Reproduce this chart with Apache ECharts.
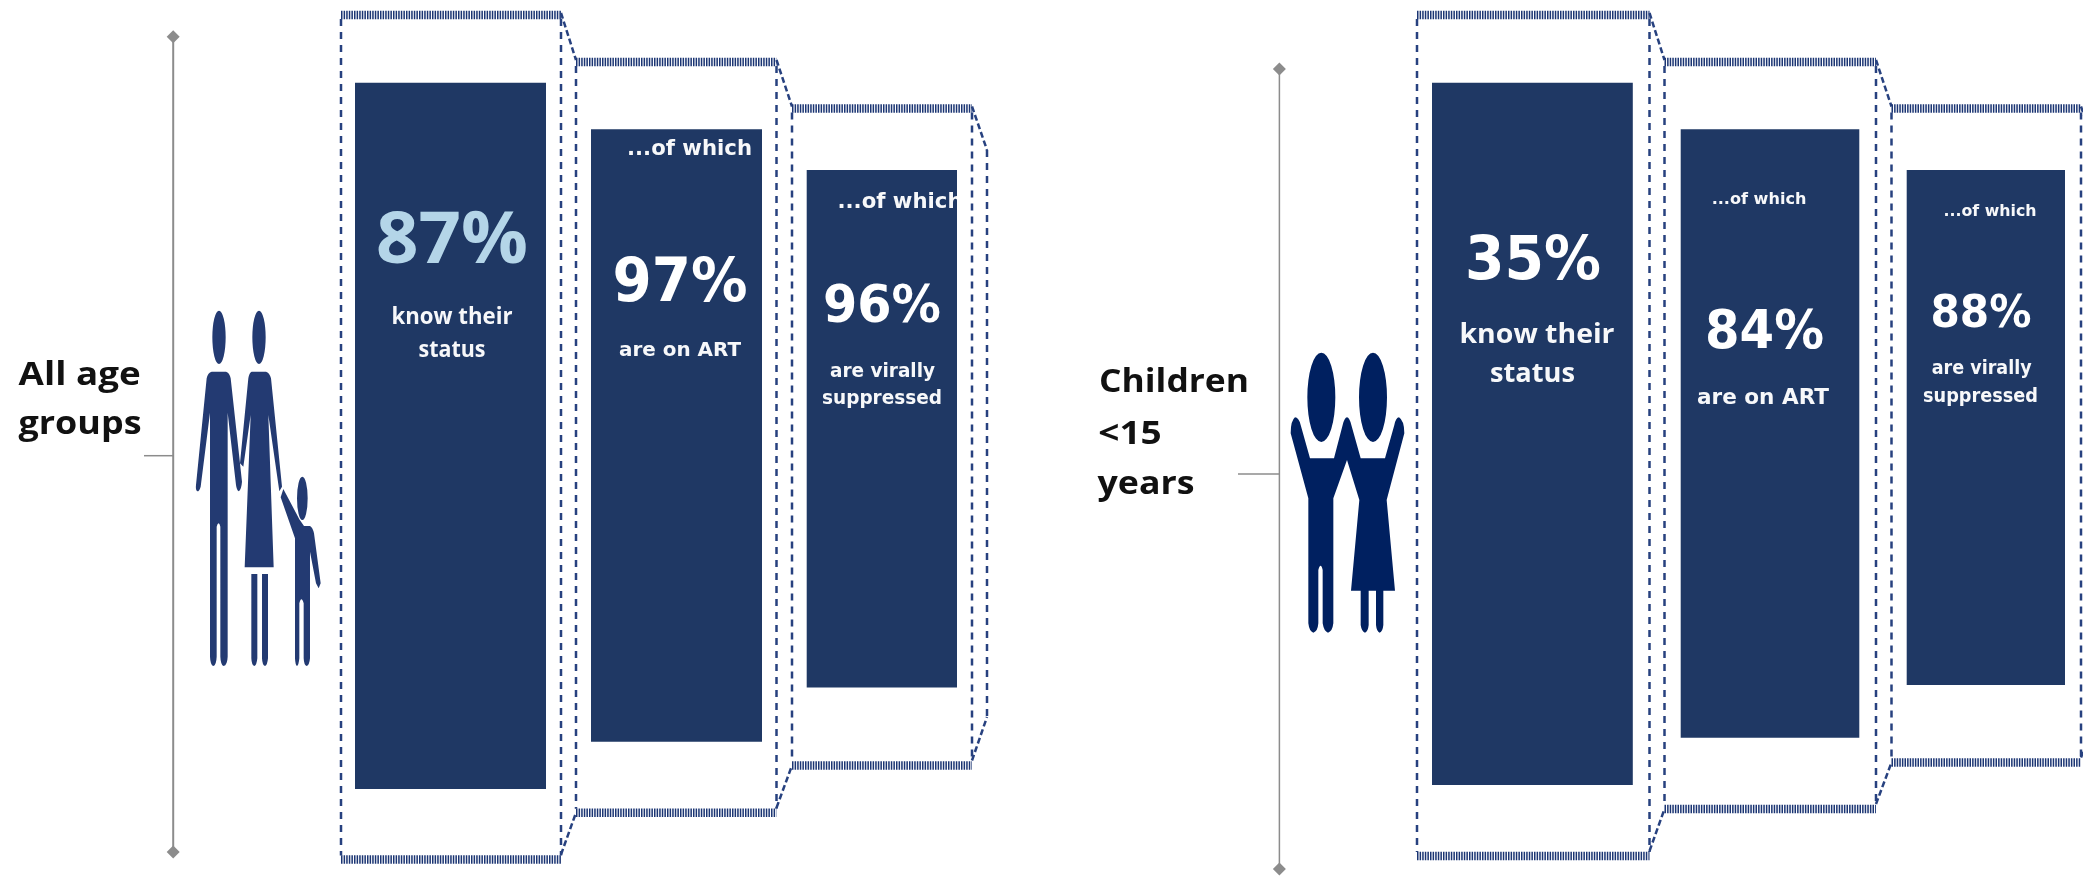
<!DOCTYPE html>
<html>
<head>
<meta charset="utf-8">
<title>HIV treatment cascade</title>
<style>
  html, body { margin: 0; padding: 0; background: #fff; }
  #chart { width: 2083px; height: 876px; }
</style>
<script src="https://cdn.jsdelivr.net/npm/echarts@6/dist/echarts.min.js"></script>
</head>
<body>
<div id="chart"></div>
<script>
// Cascade figures
const groupNames = [['All age', 'groups'], ['Children', '<15', 'years']];
const allAgeValues = [87, 97, 96];
const childValues = [35, 84, 88];
const stageCaptions = [['know their', 'status'], ['are on ART'], ['are virally', 'suppressed']];
const followOn = '...of which';

// Column extents on the vertical scale (0 at top, 876 at bottom)
const allAgeColumnTop = [82.7, 129.3, 170];
const allAgeColumnBottom = [789, 741.7, 687.5];
const childColumnTop = [82.7, 129.3, 170];
const childColumnBottom = [785, 737.7, 685];

// Horizontal extents of each column
const allAgeColumnEdges = [[355, 546], [591, 762], [806.7, 957]];
const childColumnEdges = [[1432, 1632.8], [1680.7, 1859.3], [1906.7, 2065]];

// Stepped dashed outlines behind the columns
const allAgeFrame = {
  left: [341, 576, 792], right: [561, 776.5, 972], last: 987,
  top: [15, 62, 108.5], bottom: [859.5, 812.7, 765.5], lastTop: 150, lastBottom: 717
};
const childFrame = {
  left: [1417, 1664.5, 1891.5], right: [1649.5, 1876, 2081], last: 2096,
  top: [15, 62, 108.5], bottom: [856, 809, 762.5], lastTop: 150, lastBottom: 717
};

const NAVY = '#1F3864';
const DASH = '#27417F';
const WHITE = '#F7F8FA';
const BAR_FONT = '"DejaVu Sans"';
const HUMANIST = '"Open Sans"';

// Text rows: [text, centre x, centre y, fitted width, font size, family, colour, right clip]
const textRows = [
  [groupNames[0][0], 79.6, 375.5, 122, 32, HUMANIST, '#111'],
  [groupNames[0][1], 80, 425, 123, 32, HUMANIST, '#111'],
  [groupNames[1][0], 1174, 383, 150, 32, HUMANIST, '#111'],
  [groupNames[1][1], 1130, 434.5, 63.6, 32, HUMANIST, '#111'],
  [groupNames[1][2], 1146, 484.5, 97, 32, HUMANIST, '#111'],

  [allAgeValues[0] + '%', 452, 242, 152, 72, HUMANIST, '#B4D5E8'],
  [stageCaptions[0][0], 452, 317, 121, 23, HUMANIST, WHITE],
  [stageCaptions[0][1], 452, 350, 67, 23, HUMANIST, WHITE],
  [followOn, 689.5, 150, 125, 21, BAR_FONT, WHITE],
  [allAgeValues[1] + '%', 680, 285, 135, 60, BAR_FONT, '#fff'],
  [stageCaptions[1][0], 680, 351, 122, 19, BAR_FONT, WHITE],
  [followOn, 900, 203, 125, 21, BAR_FONT, WHITE, 957],
  [allAgeValues[2] + '%', 882, 309, 118, 51, BAR_FONT, '#fff'],
  [stageCaptions[2][0], 882.5, 372, 105, 19, BAR_FONT, WHITE],
  [stageCaptions[2][1], 882, 399, 120, 19, BAR_FONT, WHITE],

  [childValues[0] + '%', 1533, 263, 136, 60, BAR_FONT, '#fff'],
  [stageCaptions[0][0], 1537, 336, 155, 26, HUMANIST, WHITE],
  [stageCaptions[0][1], 1532.5, 375, 85, 26, HUMANIST, WHITE],
  [followOn, 1759, 200, 94.7, 16, BAR_FONT, WHITE],
  [childValues[1] + '%', 1764.5, 334, 119, 54, BAR_FONT, '#fff'],
  [stageCaptions[1][0], 1763, 398, 132, 22, BAR_FONT, WHITE],
  [followOn, 1990, 212, 93, 16, BAR_FONT, WHITE],
  [childValues[2] + '%', 1981, 316, 101, 44, BAR_FONT, '#fff'],
  [stageCaptions[2][0], 1981.7, 369, 100, 19, BAR_FONT, WHITE],
  [stageCaptions[2][1], 1980.5, 396.7, 115, 19, BAR_FONT, WHITE]
];

// Build one row per column: [x0, x1, top, bottom]
function columnRows(edges, tops, bottoms) {
  return edges.map((e, i) => [e[0], e[1], tops[i], bottoms[i]]);
}
const columnData = columnRows(allAgeColumnEdges, allAgeColumnTop, allAgeColumnBottom)
  .concat(columnRows(childColumnEdges, childColumnTop, childColumnBottom));

// Break an outline into thick hatched bands and thin dashed edges
function frameSegments(f) {
  const rows = [];
  for (let i = 0; i < 3; i++) {
    const nextX = i < 2 ? f.left[i + 1] : f.last;
    const nextTop = i < 2 ? f.top[i + 1] : f.lastTop;
    const nextBottom = i < 2 ? f.bottom[i + 1] : f.lastBottom;
    rows.push(['band', f.left[i], f.top[i], f.right[i], f.top[i]]);
    rows.push(['band', f.left[i], f.bottom[i], f.right[i], f.bottom[i]]);
    rows.push(['dash', f.left[i], f.top[i] + 4, f.left[i], f.bottom[i] - 4]);
    rows.push(['dash', f.right[i], f.top[i] + 4, f.right[i], f.bottom[i] - 4]);
    rows.push(['slant', f.right[i], f.top[i] - 2, nextX, nextTop + (i < 2 ? -2 : 0)]);
    rows.push(['slant', f.right[i], f.bottom[i] - 5, nextX, nextBottom]);
  }
  rows.push(['dash', f.last, f.lastTop, f.last, f.lastBottom]);
  return rows;
}
const frameData = frameSegments(allAgeFrame).concat(frameSegments(childFrame));

// Vertical brackets beside each group: end points on the shared scales
const allAgeBracket = [[173.2, 36.7], [173.2, 852]];
const childBracket = [[1279.4, 69], [1279.4, 869]];
const allAgeTick = [[144, 455.7], [173.2, 455.7]];
const childTick = [[1238, 474], [1279.4, 474]];

// Family silhouettes, outlined at three times their drawn size
const adultsAndChild = [
  'M97 142a20 80 0 1 0 40 0a20 80 0 1 0 -40 0Z',
  'M217 142a20 80 0 1 0 40 0a20 80 0 1 0 -40 0Z',
  'M351 625a16 65 0 1 0 32 0a16 65 0 1 0 -32 0Z',
  'M95 245L138 245Q148 247 152 265L186 575Q184 600 176 604Q170 600 168 585L143 368L143 1100Q142 1125 131 1128Q122 1125 121 1100L121 710Q116 690 110 710L110 1100Q109 1125 100 1128Q91 1125 90 1100L90 368L62 590Q58 604 52 604Q46 600 48 585L80 265Q84 247 95 245Z',
  'M215 245L258 245Q268 247 273 265L306 590L298 604L265 375L281 832L194 832L212 375L190 530L180 520L205 265Q208 247 215 245Z',
  'M214 852L232 852L232 1105Q230 1126 223 1128Q215 1126 214 1105Z',
  'M246 852L264 852L264 1105Q262 1126 255 1128Q247 1126 246 1105Z',
  'M310 597L358 688L372 708L390 708Q398 712 402 730L422 880L416 895L408 880L390 785L390 1105Q388 1126 380 1128Q372 1126 371 1105L371 940Q364 915 358 940L358 1105Q356 1126 351 1128Q346 1126 345 1105L345 745L302 622Z'
].join('');
const twoChildren = [
  'M112 202a42 134 0 1 0 84 0a42 134 0 1 0 -84 0Z',
  'M267 202a42 134 0 1 0 84 0a42 134 0 1 0 -84 0Z',
  'M75 262Q86 262 92 285L120 385L192 385L218 285Q224 262 231 262Q238 262 244 285L272 385L345 385L373 285Q378 262 387 262Q403 272 403 310L350 510L375 782L340 782L340 885Q338 905 329 908Q320 905 318 885L318 782L296 782L296 885Q294 905 285 908Q275 905 272 885L272 782L243 782L268 510L231 390L190 505L190 880Q187 905 174 908Q162 905 158 880L158 720Q152 695 145 720L145 880Q143 905 130 908Q118 905 115 880L115 505L62 310Q62 272 75 262Z'
].join('');
const iconRows = [
  { at: [180, 290], path: adultsAndChild, fill: '#233A72' },
  { at: [1270, 330], path: twoChildren, fill: '#002060' }
];

const measureCtx = document.createElement('canvas').getContext('2d');
function fontOf(size, family) { return 'bold ' + size + 'px ' + family; }

const chart = echarts.init(document.getElementById('chart'), null, { renderer: 'canvas' });

function bracketSeries(points, symbol, width) {
  return {
    type: 'line', data: points, silent: true, animation: false, z: 2,
    symbol: symbol, symbolSize: 13, showSymbol: symbol !== 'none',
    lineStyle: { color: '#8C8C8C', width: width },
    itemStyle: { color: '#8C8C8C' }
  };
}

chart.setOption({
  backgroundColor: '#fff',
  animation: false,
  grid: { left: 0, right: 0, top: 0, bottom: 0 },
  xAxis: { type: 'value', min: 0, max: 2083, show: false },
  yAxis: { type: 'value', min: 0, max: 876, inverse: true, show: false },
  series: [
    // Stepped outlines
    {
      type: 'custom', silent: true, z: 1, clip: false, data: frameData.map(r => r.slice(1)),
      renderItem(params, api) {
        const kind = frameData[params.dataIndex][0];
        const a = api.coord([api.value(0), api.value(1)]);
        const b = api.coord([api.value(2), api.value(3)]);
        const style = kind === 'band'
          ? { stroke: '#1B3573', lineWidth: 8.5, lineDash: [1.5, 1.1] }
          : kind === 'slant'
            ? { stroke: DASH, lineWidth: 2.5, lineDash: [6, 3] }
            : { stroke: DASH, lineWidth: 2.5, lineDash: [7, 6] };
        return { type: 'line', shape: { x1: a[0], y1: a[1], x2: b[0], y2: b[1] }, style };
      }
    },
    // Columns
    {
      type: 'custom', silent: true, z: 3, data: columnData,
      renderItem(params, api) {
        const p0 = api.coord([api.value(0), api.value(2)]);
        const p1 = api.coord([api.value(1), api.value(3)]);
        return {
          type: 'rect',
          shape: { x: p0[0], y: p0[1], width: p1[0] - p0[0], height: p1[1] - p0[1] },
          style: { fill: NAVY }
        };
      }
    },
    // Family icons
    {
      type: 'custom', silent: true, z: 4, clip: false, data: iconRows.map(r => r.at),
      renderItem(params, api) {
        const row = iconRows[params.dataIndex];
        const pos = api.coord([api.value(0), api.value(1)]);
        return {
          type: 'path', x: pos[0], y: pos[1], scaleX: 1 / 3, scaleY: 1 / 3,
          shape: { pathData: row.path }, style: { fill: row.fill }
        };
      }
    },
    bracketSeries(allAgeBracket, 'diamond', 2),
    bracketSeries(childBracket, 'diamond', 1.5),
    bracketSeries(allAgeTick, 'none', 1.5),
    bracketSeries(childTick, 'none', 1.5),
    // All wording and percentages, squeezed to the measured width of each line
    {
      type: 'custom', silent: true, z: 5, clip: false,
      data: textRows.map(r => [r[1], r[2]]),
      renderItem(params, api) {
        const r = textRows[params.dataIndex];
        const pos = api.coord([api.value(0), api.value(1)]);
        const font = fontOf(r[4], r[5]);
        measureCtx.font = font;
        const sx = r[3] / measureCtx.measureText(r[0]).width;
        const el = {
          type: 'text', x: pos[0], y: pos[1], scaleX: sx,
          style: { x: 0, y: 0, text: r[0], font, fill: r[6], textAlign: 'center', textVerticalAlign: 'middle' }
        };
        if (r[7] != null) {
          el.clipPath = {
            type: 'rect',
            shape: { x: -300, y: -60, width: 300 + (api.coord([r[7], 0])[0] - pos[0]) / sx, height: 120 }
          };
        }
        return el;
      }
    }
  ]
});
</script>
</body>
</html>
